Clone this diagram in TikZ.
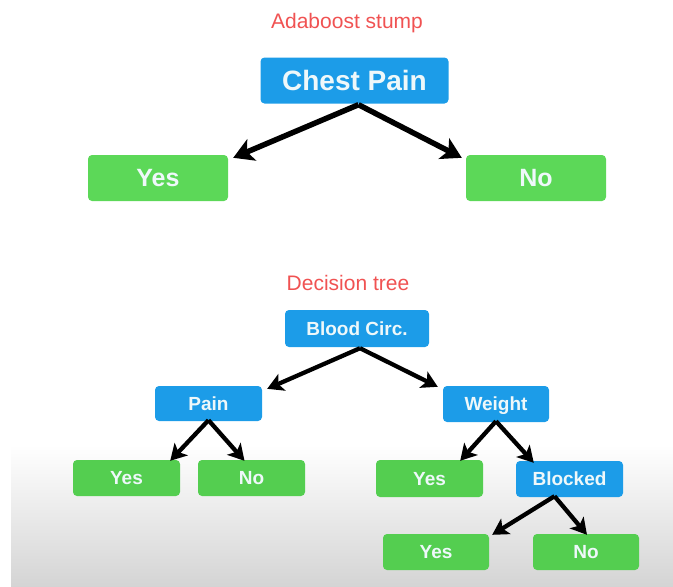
\documentclass[tikz,border=0pt]{standalone}
\usepackage{fontspec}
\setmainfont{Liberation Sans}
\usetikzlibrary{arrows.meta}
\definecolor{boxblue}{RGB}{28,156,232}
\definecolor{boxgreen}{RGB}{92,216,88}
\definecolor{boxgreenlow}{RGB}{84,206,80}
\definecolor{capred}{RGB}{240,82,82}
\definecolor{labelwhite}{RGB}{238,248,250}
\definecolor{floorgray}{RGB}{212,212,212}
\tikzset{
  % labels are centred on their capital letters: text height = cap height
  box/.style={rounded corners=4pt, inner sep=0pt, text=labelwhite,
    text height=13.6pt, text depth=0pt,
    font=\bfseries\fontsize{19}{19}\selectfont},
  bigtext/.style={text height=17.9pt, font=\bfseries\fontsize{25}{25}\selectfont},
  hugetext/.style={text height=20.0pt, font=\bfseries\fontsize{28}{28}\selectfont},
  bluebox/.style={box, fill=boxblue},
  greenbox/.style={box, fill=boxgreen},
  leafbox/.style={box, fill=boxgreenlow},
  caption/.style={text=capred, font=\fontsize{21}{21}\selectfont, inner sep=0pt},
  bigarrow/.style={line width=5.5pt, -{Stealth[length=20pt,width=23pt,inset=5pt]}},
  arrow/.style={line width=4.3pt, -{Stealth[length=16pt,width=18pt,inset=4pt]}},
}
\begin{document}
\begin{tikzpicture}[x=1pt,y=-1pt]
\useasboundingbox (0,0) rectangle (673,587);
% light floor shading behind the lower part
\shade[top color=white, bottom color=floorgray] (11,445) rectangle (673,587);

% stump
\node[caption] (capA) at (347,23) {Adaboost stump};
\node[bluebox, hugetext, minimum width=188pt, minimum height=46pt] (cp) at (354.5,80.5) {Chest Pain};
\node[greenbox, bigtext, minimum width=140pt, minimum height=46pt] (y1) at (158,178) {Yes};
\node[greenbox, bigtext, minimum width=140pt, minimum height=46pt] (n1) at (536,178) {No};
\draw[bigarrow] ([shift={(4pt,-1pt)}]cp.south) -- ([shift={(5pt,-3pt)}]y1.north east);
\draw[bigarrow] ([shift={(4pt,-1pt)}]cp.south) -- ([shift={(-4pt,-3pt)}]n1.north west);

% decision tree
\node[caption] (capD) at (348,283) {Decision tree};
\node[bluebox, minimum width=144pt, minimum height=37pt] (bc) at (357,328.5) {Blood Circ.};
\node[bluebox, minimum width=107pt, minimum height=35pt] (pain) at (208.5,403.5) {Pain};
\node[bluebox, minimum width=106pt, minimum height=36pt] (wt) at (496,404) {Weight};
\node[leafbox, minimum width=107pt, minimum height=36pt] (py) at (126.5,478) {Yes};
\node[leafbox, minimum width=107pt, minimum height=36pt] (pn) at (251.5,478) {No};
\node[leafbox, minimum width=107pt, minimum height=37pt] (wy) at (429.5,478.5) {Yes};
\node[bluebox, minimum width=107pt, minimum height=36pt] (bl) at (569.5,479) {Blocked};
\node[leafbox, minimum width=106pt, minimum height=36pt] (by) at (436,552) {Yes};
\node[leafbox, minimum width=106pt, minimum height=36pt] (bn) at (586,552) {No};

\draw[arrow] ([shift={(3pt,-1pt)}]bc.south) -- ([shift={(5pt,-3pt)}]pain.north east);
\draw[arrow] ([shift={(3pt,-1pt)}]bc.south) -- ([shift={(-5pt,-1pt)}]wt.north west);
\draw[arrow] ([yshift=1pt]pain.south) -- ([shift={(-10pt,-1pt)}]py.north east);
\draw[arrow] ([yshift=1pt]pain.south) -- ([shift={(-7pt,-1pt)}]pn.north);
\draw[arrow] ([yshift=1pt]wt.south) -- ([shift={(-23pt,-1pt)}]wy.north east);
\draw[arrow] ([yshift=1pt]wt.south) -- ([shift={(18pt,-2pt)}]bl.north west);
\draw[arrow] ([shift={(-15pt,1pt)}]bl.south) -- ([shift={(3pt,-1pt)}]by.north east);
\draw[arrow] ([shift={(-15pt,1pt)}]bl.south) -- ([shift={(1pt,-1pt)}]bn.north);
\end{tikzpicture}
\end{document}
